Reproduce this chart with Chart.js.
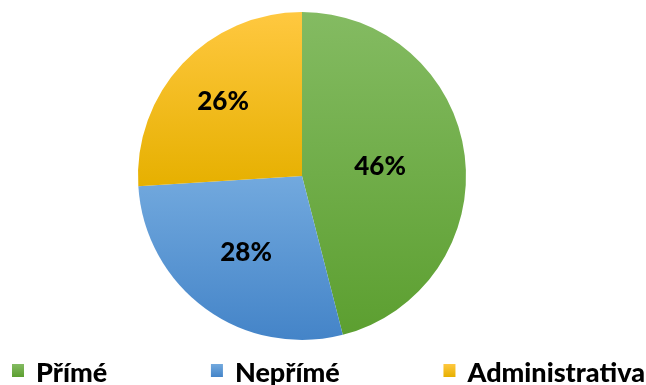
<!DOCTYPE html>
<html>
<head>
<meta charset="utf-8">
<script src="https://cdn.jsdelivr.net/npm/chart.js@4"></script>
<style>
  html, body { margin: 0; padding: 0; background: #fff; }
  #wrap { width: 646px; height: 385px; position: relative; }
</style>
</head>
<body>
<div id="wrap"><canvas id="graf"></canvas></div>
<script>
const kategorie = ['Přímé', 'Nepřímé', 'Administrativa'];
const podily = [46, 28, 26];

// barvy výsečí: světlejší nahoře, tmavší dole
const barvyHore = ['#84bb62', '#72a9de', '#ffc840'];
const barvyDole = ['#5c9f30', '#4484c8', '#e6b000'];
// vzdálenost popisku od středu (podíl poloměru)
const polohaPopisku = [0.48, 0.58, 0.66];

const PISMO = 'Lato, "Open Sans", sans-serif';

function rozsahVysece(chart, i) {
    const area = chart.chartArea;
    const cx = (area.left + area.right) / 2;
    const cy = (area.top + area.bottom) / 2;
    const r = Math.min(area.right - area.left, area.bottom - area.top) / 2;
    const soucet = podily.reduce((a, b) => a + b, 0);
    let pred = 0;
    for (let k = 0; k < i; k++) pred += podily[k];
    const a0 = -Math.PI / 2 + 2 * Math.PI * pred / soucet;
    const a1 = a0 + 2 * Math.PI * podily[i] / soucet;
    const ys = [cy, cy + r * Math.sin(a0), cy + r * Math.sin(a1)];
    [-Math.PI / 2, Math.PI / 2, 3 * Math.PI / 2].forEach(a => {
        if (a >= a0 && a <= a1) ys.push(cy + r * Math.sin(a));
    });
    return [Math.min(...ys), Math.max(...ys)];
}

// svislý přechod přes rozsah výseče
function vyplnVysece(context) {
    const i = context.dataIndex;
    const chart = context.chart;
    if (!chart.chartArea || i === undefined) return barvyHore[i] || '#ccc';
    const [y0, y1] = rozsahVysece(chart, i);
    const g = chart.ctx.createLinearGradient(0, y0, 0, y1);
    g.addColorStop(0, barvyHore[i]);
    g.addColorStop(1, barvyDole[i]);
    return g;
}

const popiskyPlugin = {
    id: 'popisky',
    afterDatasetsDraw(chart) {
        const ctx = chart.ctx;
        const meta = chart.getDatasetMeta(0);
        ctx.save();
        ctx.font = '900 26px ' + PISMO;
        ctx.fillStyle = '#000';
        ctx.textAlign = 'center';
        ctx.textBaseline = 'middle';
        meta.data.forEach((arc, i) => {
            const mid = (arc.startAngle + arc.endAngle) / 2;
            const r = arc.outerRadius * polohaPopisku[i];
            ctx.fillText(podily[i] + '%', arc.x + Math.cos(mid) * r, arc.y + Math.sin(mid) * r);
        });
        ctx.restore();
    }
};

// legenda pod grafem, položky rozložené přes celou šířku
const legendaPlugin = {
    id: 'legenda',
    afterDraw(chart) {
        const ctx = chart.ctx;
        const box = 12, mezera = 12;
        const levy = 12, pravy = 645, zaklad = 382;
        ctx.save();
        ctx.font = '900 27px ' + PISMO;
        ctx.textBaseline = 'alphabetic';
        const sirky = kategorie.map(k => box + mezera + ctx.measureText(k).width);
        const volno = (pravy - levy - sirky.reduce((a, b) => a + b, 0)) / (kategorie.length - 1);
        let x = levy;
        kategorie.forEach((k, i) => {
            const g = ctx.createLinearGradient(0, 364, 0, 377);
            g.addColorStop(0, barvyHore[i]);
            g.addColorStop(1, barvyDole[i]);
            ctx.fillStyle = g;
            ctx.fillRect(x, 364, box, 13);
            ctx.fillStyle = '#000';
            ctx.fillText(k, x + box + mezera, zaklad);
            x += sirky[i] + volno;
        });
        ctx.restore();
    }
};

new Chart(document.getElementById('graf'), {
    type: 'pie',
    data: {
        labels: kategorie,
        datasets: [{
            data: podily,
            backgroundColor: vyplnVysece,
            borderWidth: 0
        }]
    },
    options: {
        responsive: true,
        maintainAspectRatio: false,
        animation: false,
        layout: { padding: { top: 12, left: 0, right: 42, bottom: 45 } },
        plugins: {
            tooltip: { enabled: false },
            legend: { display: false }
        }
    },
    plugins: [popiskyPlugin, legendaPlugin]
});
</script>
</body>
</html>
